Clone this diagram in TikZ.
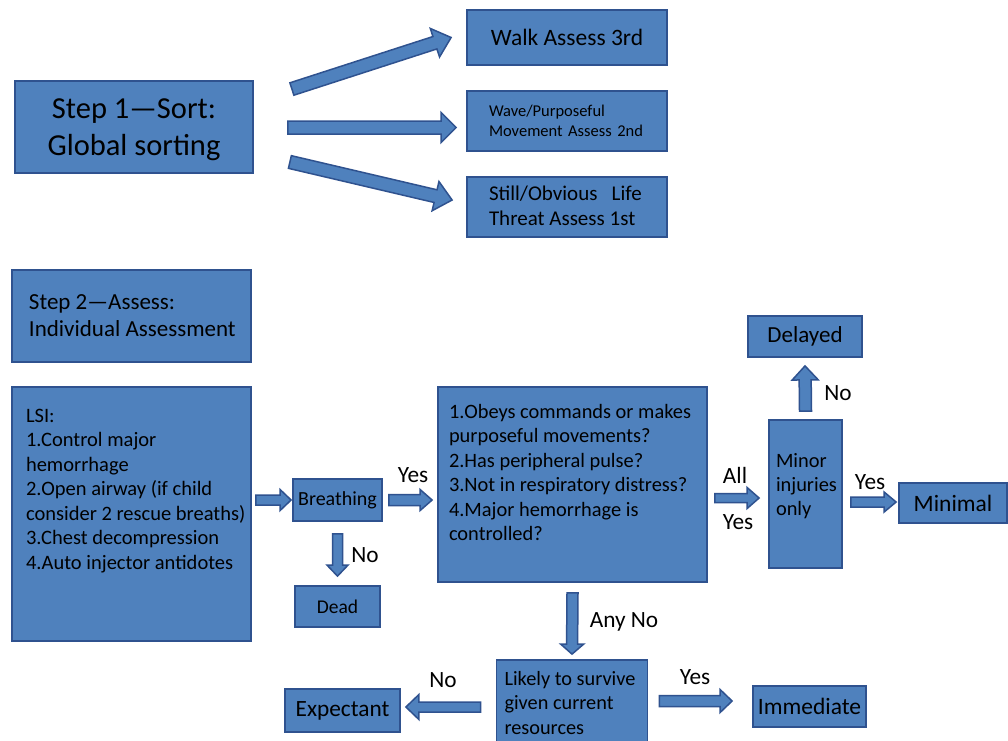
\documentclass[tikz,border=0pt]{standalone}
\usepackage{fontspec}
\setmainfont{Carlito}
\usepackage{tikz}
\usetikzlibrary{calc}
\definecolor{boxfill}{HTML}{4F81BD}
\definecolor{boxline}{HTML}{2F528F}

\newcommand{\toptext}[5]{\hspace*{#1}\parbox[c][#2][t]{#3}{\vspace*{#4}#5}}
\newcommand{\blockarrow}[5]{%
  \path (#1) coordinate (ba-s) (#2) coordinate (ba-e);
  \path ($(ba-e)!#5pt!(ba-s)$) coordinate (ba-h);
  \draw[arrowshape] ($(ba-s)!#3pt!90:(ba-e)$) -- ($(ba-h)!#3pt!-90:(ba-s)$) -- ($(ba-h)!#4pt!-90:(ba-s)$) -- (ba-e)
    -- ($(ba-h)!#4pt!90:(ba-s)$) -- ($(ba-h)!#3pt!90:(ba-s)$) -- ($(ba-s)!#3pt!-90:(ba-e)$) -- cycle;
}

\begin{document}
\begin{tikzpicture}[x=1pt, y=-1pt,
  box/.style={draw=boxline, fill=boxfill, line width=1.8pt, inner sep=0pt, text=black},
  arrowshape/.style={draw=boxline, fill=boxfill, line width=1.5pt, line join=miter},
  lbl/.style={inner sep=0pt, font=\fontsize{23.3}{28}\selectfont}
]
\useasboundingbox[fill=white] (0,0) rectangle (1008,740);

\node[box, minimum width=238pt, minimum height=92pt, align=center, font=\fontsize{30.5}{37}\selectfont] (sort) at (134,127) {\rule{0pt}{26pt}Step 1—Sort:\\Global sorting};
\node[box, minimum width=200pt, minimum height=55pt, font=\fontsize{23.5}{28}\selectfont] (walk) at (567,37.5) {Walk Assess 3rd};
\node[box, minimum width=200pt, minimum height=60pt, text width=156pt, align=left, font=\fontsize{16.5}{20}\selectfont] (wave) at (567,121) {Wave/Purposeful\\Movement Assess 2nd};
\node[box, font=\fontsize{21}{25}\selectfont] (still) at (567,207) {\toptext{22pt}{60pt}{178pt}{9pt}{Still/Obvious\ \ \ Life\\Threat Assess 1st}};

\node[box, font=\fontsize{23}{27}\selectfont] (assess) at (131.5,316) {\toptext{17pt}{92pt}{222pt}{25pt}{Step 2—Assess:\\Individual Assessment}};
\node[box, font=\fontsize{20.5}{24.5}\selectfont] (lsi) at (131.5,514) {\toptext{14pt}{254pt}{225pt}{22pt}{LSI:\\1.Control major\\hemorrhage\\2.Open airway (if child\\consider 2 rescue breaths)\\3.Chest decompression\\4.Auto injector antidotes}};
\node[box, minimum width=89pt, minimum height=42pt, font=\fontsize{20}{24}\selectfont] (breath) at (337.5,500) {Breathing};
\node[box, minimum width=85pt, minimum height=41pt, font=\fontsize{19.5}{24}\selectfont] (dead) at (337.5,606.5) {Dead};
\node[box, font=\fontsize{20.4}{24.5}\selectfont] (quest) at (572.5,484.5) {\toptext{11pt}{195pt}{258pt}{17pt}{1.Obeys commands or makes\\purposeful movements?\\2.Has peripheral pulse?\\3.Not in respiratory distress?\\4.Major hemorrhage is\\controlled?}};
\node[box, font=\fontsize{20.4}{24}\selectfont] (minor) at (805.5,494) {\toptext{7pt}{148pt}{66pt}{33pt}{Minor\\injuries\\only}};
\node[box, minimum width=114pt, minimum height=41pt, font=\fontsize{23}{27}\selectfont] (delayed) at (805,336.5) {Delayed};
\node[box, minimum width=108pt, minimum height=40pt, font=\fontsize{23.5}{28}\selectfont] (minimal) at (953,503) {Minimal};
\node[box, font=\fontsize{20.3}{24.5}\selectfont] (likely) at (572,706) {\toptext{8pt}{92pt}{143pt}{11pt}{Likely to survive\\given current\\resources}};
\node[box, minimum width=115pt, minimum height=43pt, font=\fontsize{23.3}{28}\selectfont] (expectant) at (342.5,710.5) {Expectant};
\node[box, minimum width=113pt, minimum height=41pt, font=\fontsize{23.5}{28}\selectfont] (immediate) at (809.5,706.5) {Immediate};

\blockarrow{$(sort.east)+(38,-38)$}{$(walk.west)+(-15,0)$}{6.5}{15}{17}
\blockarrow{$(sort.east)+(34,0.5)$}{$(wave.west)+(-10,6.5)$}{6.5}{15}{15}
\blockarrow{$(sort.east)+(36,35)$}{$(still.west)+(-14,-7)$}{6.5}{15}{17}
\blockarrow{$(lsi.east |- breath.west)+(4,0)$}{$(breath.west)+(-1,0)$}{5}{10.5}{11}
\blockarrow{$(breath.south)+(0,12)$}{$(dead.north)+(0,-9)$}{5}{10.5}{11}
\blockarrow{$(breath.east)+(6,0)$}{$(quest.west |- breath.east)+(-5,0)$}{5.5}{10.5}{12}
\blockarrow{$(quest.east)+(7,13.5)$}{$(minor.west)+(-9,4)$}{4.5}{10.5}{12}
\blockarrow{$(minor.north)+(0,-8)$}{$(delayed.south)+(0,8)$}{6}{13}{14}
\blockarrow{$(minor.east)+(8,8)$}{$(minimal.west)+(-2,-1)$}{5}{10}{12}
\blockarrow{$(quest.south)+(0,10)$}{$(likely.north)+(0,-5)$}{5.5}{11.5}{10}
\blockarrow{$(likely.west)+(-15,1)$}{$(expectant.east)+(5,-3.5)$}{5}{12.5}{13}
\blockarrow{$(likely.east)+(11,-5)$}{$(immediate.west)+(-20,-5.5)$}{5.5}{11.5}{12}

\node[lbl] (yes1) at (413,475) {Yes};
\node[lbl] (no1) at (365,555) {No};
\node[lbl] (all) at (735,475) {All};
\node[lbl] (yes2) at (738,522) {Yes};
\node[lbl] (no2) at (838,393) {No};
\node[lbl] (yes3) at (870,482) {Yes};
\node[lbl] (anyno) at (624,622) {Any No};
\node[lbl] (no3) at (443,680) {No};
\node[lbl] (yes4) at (695,677) {Yes};
\end{tikzpicture}
\end{document}
